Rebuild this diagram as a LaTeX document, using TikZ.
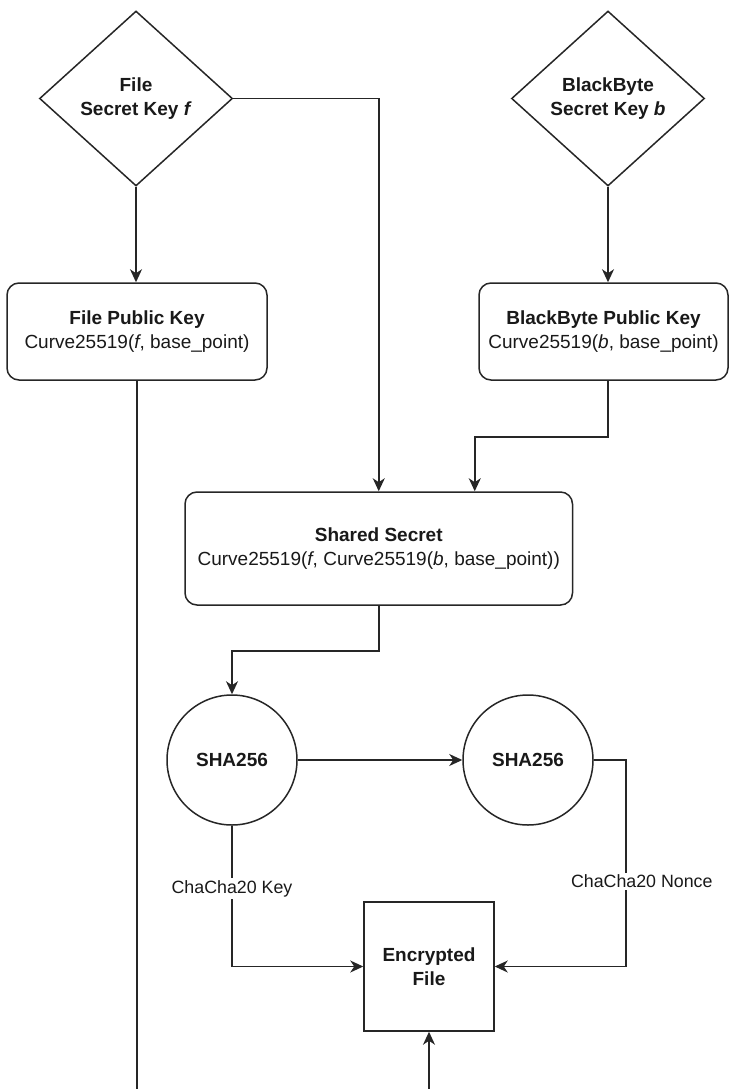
\documentclass[tikz,border=0pt]{standalone}
\usepackage{fontspec}
\setmainfont{Liberation Sans}
\usetikzlibrary{shapes.geometric,arrows.meta}

\begin{document}
\begin{tikzpicture}[x=1pt, y=-1pt, line width=1.5pt, draw=black!85, text=black!90,
        keyshape/.style={diamond, draw, inner sep=0pt, minimum width=193pt, minimum height=175pt, align=center, font=\fontsize{19}{24}\selectfont\bfseries},
        keybox/.style={rectangle, draw, rounded corners=12pt, inner sep=0pt, align=center, font=\fontsize{19}{23.5}\selectfont},
        hashnode/.style={circle, draw, inner sep=0pt, minimum size=130pt, font=\fontsize{19}{23.5}\selectfont\bfseries},
        flow/.style={-{Stealth[length=13pt, width=12pt, inset=4pt]}},
        lbl/.style={fill=white, inner sep=2pt, font=\fontsize{17.8}{20}\selectfont}]
    \useasboundingbox (0,0) rectangle (729,1089);

    \node[keyshape] (fsk) at (136, 98.5) {File\\Secret Key \textit{f}};
    \node[keyshape] (bsk) at (608, 98.5) {BlackByte\\Secret Key \textit{b}};

    \node[keybox, minimum width=260pt, minimum height=97pt] (fpk) at (137, 331.5) {\textbf{File Public Key}\\Curve25519(\textit{f}, base\_point)};
    \node[keybox, minimum width=249pt, minimum height=97pt] (bpk) at (603.5, 331.5) {\textbf{BlackByte Public Key}\\Curve25519(\textit{b}, base\_point)};

    \node[keybox, minimum width=387.5pt, minimum height=113pt] (ss) at (378.75, 548.5) {\textbf{Shared Secret}\\Curve25519(\textit{f}, Curve25519(\textit{b}, base\_point))};

    \node[hashnode] (sha1) at (232, 760) {SHA256};
    \node[hashnode] (sha2) at (528, 760) {SHA256};

    \node[rectangle, draw, inner sep=0pt, minimum width=130pt, minimum height=129pt, align=center, font=\fontsize{19}{23.5}\selectfont\bfseries] (enc) at (429, 966.5) {Encrypted\\File};

    \coordinate (fpkend) at (137, 1089);
    \coordinate (encsrc) at (429, 1089);

    % keys
    \draw[flow] (fsk.south) -- (fsk.south |- fpk.north);
    \draw[flow] (bsk.south) -- (bsk.south |- bpk.north);
    \draw[flow] (fsk.east) -| (ss.north);
    \draw[flow] (bpk.south -| bsk.south) -- ++(0, 56) -| ([xshift=96pt]ss.north);
    \draw (fpk.south) -- (fpkend);

    % hashing
    \draw[flow] (ss.south) -- ++(0, 45) -| (sha1.north);
    \draw[flow] (sha1.east) -- (sha2.west);
    \draw[flow] (sha1.south) |- node[lbl, pos=0.223] {ChaCha20 Key} (enc.west);
    \draw[flow] (sha2.east) -- ++(32, 0) |- node[lbl, pos=0.294, xshift=16pt] {ChaCha20 Nonce} (enc.east);
    \draw[flow] (encsrc) -- (enc.south);
\end{tikzpicture}
\end{document}
